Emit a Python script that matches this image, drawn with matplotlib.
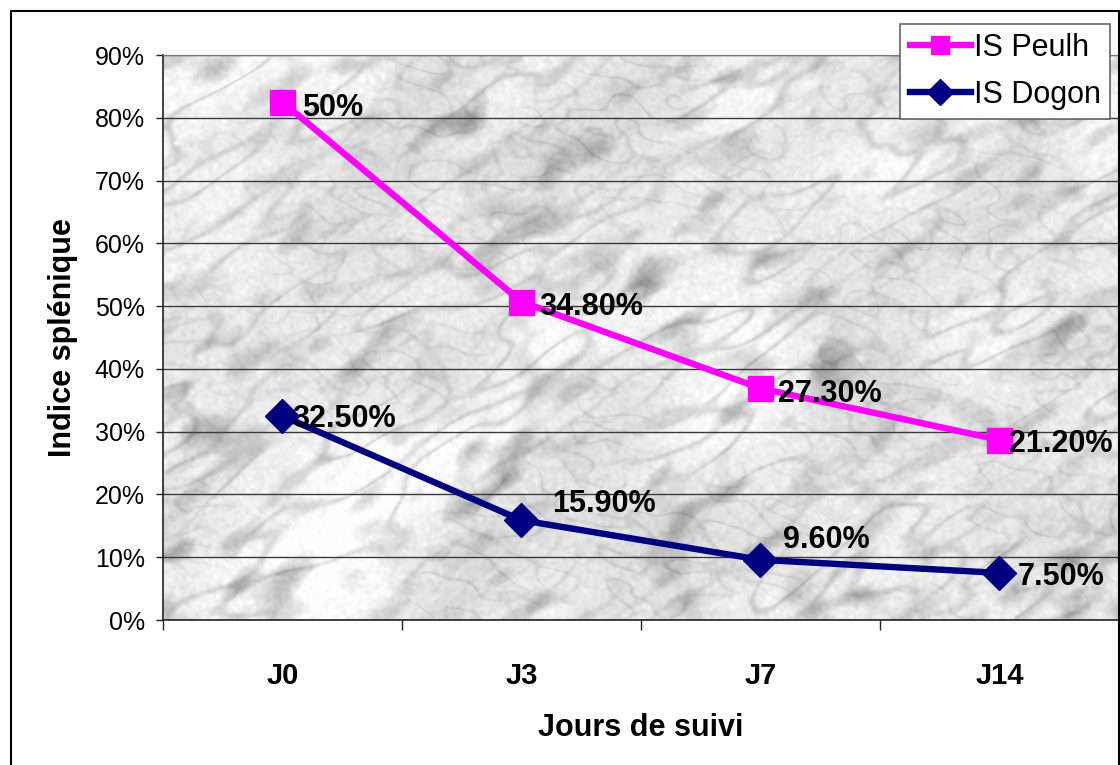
import numpy as np
import matplotlib
matplotlib.use("Agg")
import matplotlib.pyplot as plt
from matplotlib.patches import Rectangle
from matplotlib.ticker import FixedLocator, PercentFormatter

plt.rcParams['font.family'] = ['Liberation Sans', 'DejaVu Sans']

# splenic index per follow-up day (percent)
jours = ["J0", "J3", "J7", "J14"]
is_peulh = [50.0, 34.8, 27.3, 21.2]
is_dogon = [32.5, 15.9, 9.6, 7.5]


def fmt_pct(v):
    return f"{v:.0f}%" if float(v).is_integer() else f"{v:.2f}%"


def smooth_noise(rng, h, w, sx, sy, angle):
    """Band-limited noise, stretched along a rotated direction."""
    a = rng.standard_normal((h, w))
    fy = np.fft.fftfreq(h)[:, None]
    fx = np.fft.fftfreq(w)[None, :]
    c, s = np.cos(angle), np.sin(angle)
    u = c * fx + s * fy
    v = -s * fx + c * fy
    k = np.exp(-2 * np.pi ** 2 * ((sx * u) ** 2 + (sy * v) ** 2))
    out = np.real(np.fft.ifft2(np.fft.fft2(a) * k))
    return (out - out.mean()) / out.std()


def marble(h, w, seed=3):
    rng = np.random.default_rng(seed)
    ang = np.deg2rad(-32)
    big = smooth_noise(rng, h, w, 55, 30, ang)
    cloud = smooth_noise(rng, h, w, 14, 7, ang)
    mid = smooth_noise(rng, h, w, 26, 8, ang)
    mid2 = smooth_noise(rng, h, w, 12, 6, ang + 0.9)
    fine = smooth_noise(rng, h, w, 1.5, 1.5, 0)
    vein1 = np.exp(-(mid / 0.32) ** 2)
    vein2 = np.exp(-(mid2 / 0.25) ** 2)
    g = (0.925 + 0.03 * big
         - 0.13 * vein1 * (0.55 + 0.45 * np.tanh(big + 0.5))
         - 0.08 * vein2 * (0.5 + 0.5 * np.tanh(-big))
         - 0.09 * np.clip(cloud - 0.4, 0, None)
         + 0.015 * fine)
    return np.clip(g, 0.55, 0.99)


x = np.arange(len(jours))
dogon = np.array(is_dogon)
# stacked lines: the Peulh series sits on top of the Dogon one
peulh_top = dogon + np.array(is_peulh)

fig = plt.figure(figsize=(11.2, 7.65), dpi=100)
ax = fig.add_axes([0.1455, 0.1895, 0.8535, 0.7386])

ax.set_xlim(-0.5, len(jours) - 0.5)
ax.set_ylim(0, 90)
ax.imshow(marble(565, 956), cmap='gray', vmin=0, vmax=1, aspect='auto',
          extent=[-0.5, len(jours) - 0.5, 0, 90], zorder=0,
          interpolation='bilinear')

ax.yaxis.set_major_locator(FixedLocator(np.arange(0, 91, 10)))
ax.yaxis.set_major_formatter(PercentFormatter(decimals=0))
ax.grid(axis='y', color='#3a3a3a', linewidth=1.0, zorder=1)
ax.tick_params(axis='y', direction='out', length=5, width=1, pad=8,
               labelsize=18, color='#222222')

ax.set_xticks(x)
ax.set_xticklabels(jours, fontsize=21, fontweight='bold')
ax.set_xticks(np.arange(-0.5, len(jours)), minor=True)
ax.tick_params(axis='x', which='major', length=0, pad=30)
ax.tick_params(axis='x', which='minor', direction='out', length=7, width=1,
               color='#222222')

for side in ['left', 'bottom']:
    ax.spines[side].set_color('#222222')
    ax.spines[side].set_linewidth(1.2)
ax.spines['top'].set_color('#777777')
ax.spines['right'].set_color('#222222')

ax.plot(x, peulh_top, color='#FF00FF', lw=4.6, marker='s', ms=18,
        label='IS Peulh', zorder=4)
ax.plot(x, dogon, color='#000080', lw=4.6, marker='D', ms=17,
        label='IS Dogon', zorder=4)

peulh_off = [(14, -4), (13, -4), (13, -4), (7, -3)]
dogon_off = [(7, -2), (22, 12), (16, 14), (13, -3)]
for xi, top, v, off in zip(x, peulh_top, is_peulh, peulh_off):
    ax.annotate(fmt_pct(v), (xi, top), xytext=off, textcoords='offset points',
                ha='left', va='center', fontsize=22, fontweight='bold',
                zorder=5)
for xi, v, off in zip(x, is_dogon, dogon_off):
    ax.annotate(fmt_pct(v), (xi, v), xytext=off, textcoords='offset points',
                ha='left', va='center', fontsize=22, fontweight='bold',
                zorder=5)

ax.set_ylabel("Indice splénique", fontsize=22, fontweight='bold', labelpad=12)
ax.set_xlabel("Jours de suivi", fontsize=22, fontweight='bold', labelpad=17)

leg = ax.legend(loc='upper right', bbox_to_anchor=(0.991, 0.969),
                bbox_transform=fig.transFigure, fontsize=22, frameon=True,
                fancybox=False, edgecolor='#666666', framealpha=1,
                markerscale=0.75, handlelength=2.0, handletextpad=0.1,
                borderpad=0.3, labelspacing=0.55, borderaxespad=0)
leg.get_frame().set_linewidth(1.2)
leg.set_zorder(6)

# outer chart border
fig.patches.append(Rectangle((11 / 1120, -0.02), 1108 / 1120, 1.02 - 11 / 765,
                             transform=fig.transFigure, fill=False,
                             edgecolor='black', linewidth=1.5))

fig.savefig("out.png", dpi=100)
